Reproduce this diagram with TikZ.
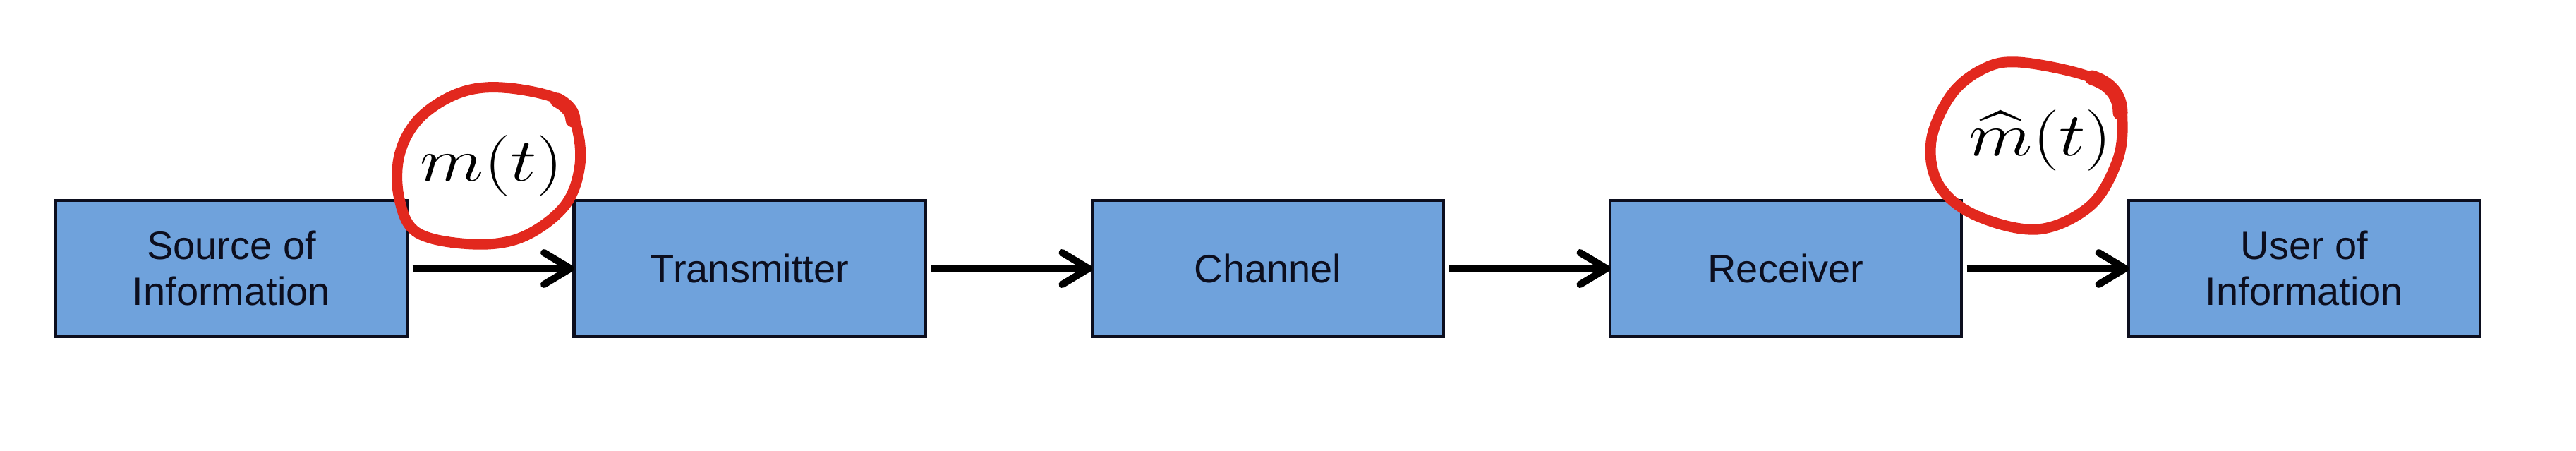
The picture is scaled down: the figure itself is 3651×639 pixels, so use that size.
\documentclass[tikz,border=0pt]{standalone}
\usepackage{fontspec}
\setmainfont{Liberation Sans}
\usepackage{amsmath}
\usetikzlibrary{arrows.meta}
\definecolor{boxblue}{RGB}{111,162,220}
\definecolor{boxedge}{RGB}{12,14,30}
\definecolor{penred}{RGB}{226,40,30}
\begin{document}
\begin{tikzpicture}[x=0.2pt,y=-0.2pt,
  blockbox/.style={draw=boxedge,line width=0.9pt,fill=boxblue,minimum width=99.6pt,minimum height=38.6pt,
    inner sep=0pt,outer sep=0pt,align=center,font=\fontsize{11.2}{13}\selectfont,text=boxedge},
  flow/.style={line width=2pt,-{Straight Barb[length=7.5pt,width=9pt,round]}},
  pen/.style={draw=penred,line width=3pt,line cap=round,line join=round},
  sig/.style={anchor=base,inner sep=0pt,font=\fontsize{16}{18}\selectfont}]
\useasboundingbox (0,0) rectangle (3651,639);
\node[blockbox] (src) at (328,380.5) {Source of\\Information};
\node[blockbox] (tx) at (1062.5,380.5) {Transmitter};
\node[blockbox] (ch) at (1797,380.5) {Channel};
\node[blockbox] (rx) at (2531,380.5) {Receiver};
\node[blockbox] (usr) at (3266,380.5) {User of\\Information};
\draw[flow] ([xshift=1.5pt]src.east) -- (tx.west);
\draw[flow] ([xshift=1.5pt]tx.east) -- (ch.west);
\draw[flow] ([xshift=1.5pt]ch.east) -- (rx.west);
\draw[flow] ([xshift=1.5pt]rx.east) -- (usr.west);
\node[sig] (m) at (697,256) {\scalebox{1.22}[1]{$m(t)$}};
\node[sig] (mh) at (2892,220) {\scalebox{1.22}[1]{$\widehat{m}(t)$}};
\draw[pen] plot[smooth cycle,tension=0.6] coordinates {(712,124) (790,140) (815,172) (822,233) (800,292) (740,336) (670,346) (592,330) (566,282) (566,220) (594,168) (650,132)};
\draw[pen,line width=4.2pt] (790,142) .. controls (805,150) and (812,160) .. (812,170);
\draw[pen] plot[smooth cycle,tension=0.6] coordinates {(2860,88) (2950,105) (2998,130) (3008,175) (3000,230) (2962,292) (2888,325) (2800,305) (2748,262) (2737,200) (2765,135) (2810,98)};
\draw[pen,line width=4.2pt] (2965,110) .. controls (2990,118) and (3005,135) .. (3005,160);
\end{tikzpicture}
\end{document}
